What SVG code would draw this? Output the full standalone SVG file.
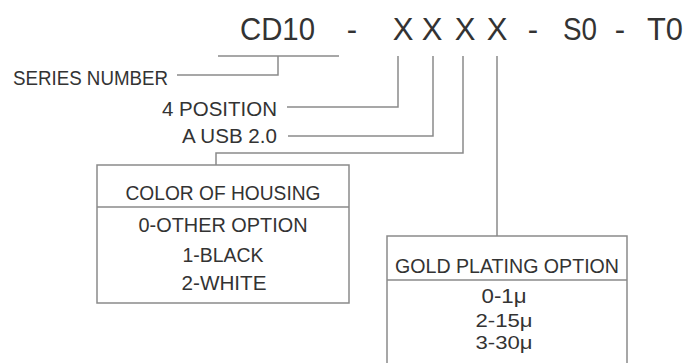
<svg xmlns="http://www.w3.org/2000/svg" width="688" height="363" viewBox="0 0 688 363">
<style>
.t{font-family:"Liberation Sans","DejaVu Sans",sans-serif;fill:#333;font-size:20.5px}
.h{font-size:31px}
.s{font-size:19px}
.c{text-anchor:middle}
.e{text-anchor:end}
.l{fill:none;stroke:#8a8a8a;stroke-width:1.5}
</style>
<rect width="688" height="363" fill="#fff"/>
<g id="title">
<text class="t h" x="240" y="40" textLength="75" lengthAdjust="spacingAndGlyphs">CD10</text>
<text class="t h c" x="352" y="40">-</text>
<text class="t h c" x="403" y="40">X</text>
<text class="t h c" x="432" y="40">X</text>
<text class="t h c" x="465" y="40">X</text>
<text class="t h c" x="497" y="40">X</text>
<text class="t h c" x="533" y="40">-</text>
<text class="t h" x="563" y="40" textLength="34" lengthAdjust="spacingAndGlyphs">S0</text>
<text class="t h c" x="620" y="40">-</text>
<text class="t h" x="647" y="40" textLength="36" lengthAdjust="spacingAndGlyphs">T0</text>
</g>
<g id="series">
<text class="t" x="13" y="85" textLength="155" lengthAdjust="spacingAndGlyphs">SERIES NUMBER</text>
</g>
<g id="position">
<text class="t e" x="277" y="116" textLength="115" lengthAdjust="spacingAndGlyphs">4 POSITION</text>
</g>
<g id="usb">
<text class="t e" x="277" y="143" textLength="95" lengthAdjust="spacingAndGlyphs">A USB 2.0</text>
</g>
<g id="housing">
<rect class="l" x="97" y="165" width="252" height="138"/>
<line class="l" x1="97" y1="207" x2="349" y2="207"/>
<text class="t c" x="223" y="200" textLength="195" lengthAdjust="spacingAndGlyphs">COLOR OF HOUSING</text>
<text class="t c" x="223" y="232" textLength="169" lengthAdjust="spacingAndGlyphs">0-OTHER OPTION</text>
<text class="t c" x="223" y="262" textLength="81" lengthAdjust="spacingAndGlyphs">1-BLACK</text>
<text class="t c" x="224" y="290" textLength="85" lengthAdjust="spacingAndGlyphs">2-WHITE</text>
</g>
<g id="plating">
<rect class="l" x="387" y="236" width="240" height="140"/>
<line class="l" x1="387" y1="280" x2="627" y2="280"/>
<text class="t c" x="507" y="273" textLength="224" lengthAdjust="spacingAndGlyphs">GOLD PLATING OPTION</text>
<text class="t c" x="504" y="303" textLength="45" lengthAdjust="spacingAndGlyphs">0-1μ</text>
<text class="t s c" x="504" y="327" textLength="57" lengthAdjust="spacingAndGlyphs">2-15μ</text>
<text class="t s c" x="504" y="349" textLength="57" lengthAdjust="spacingAndGlyphs">3-30μ</text>
</g>
<g id="connectors">
<line class="l" x1="218" y1="56" x2="339" y2="56"/>
<polyline class="l" points="278,56 278,75 177,75"/>
<polyline class="l" points="398,56 398,107 287,107"/>
<polyline class="l" points="433,56 433,136 288,136"/>
<polyline class="l" points="463,56 463,153 216,153 216,165"/>
<line class="l" x1="497" y1="56" x2="497" y2="236"/>
</g>
</svg>
